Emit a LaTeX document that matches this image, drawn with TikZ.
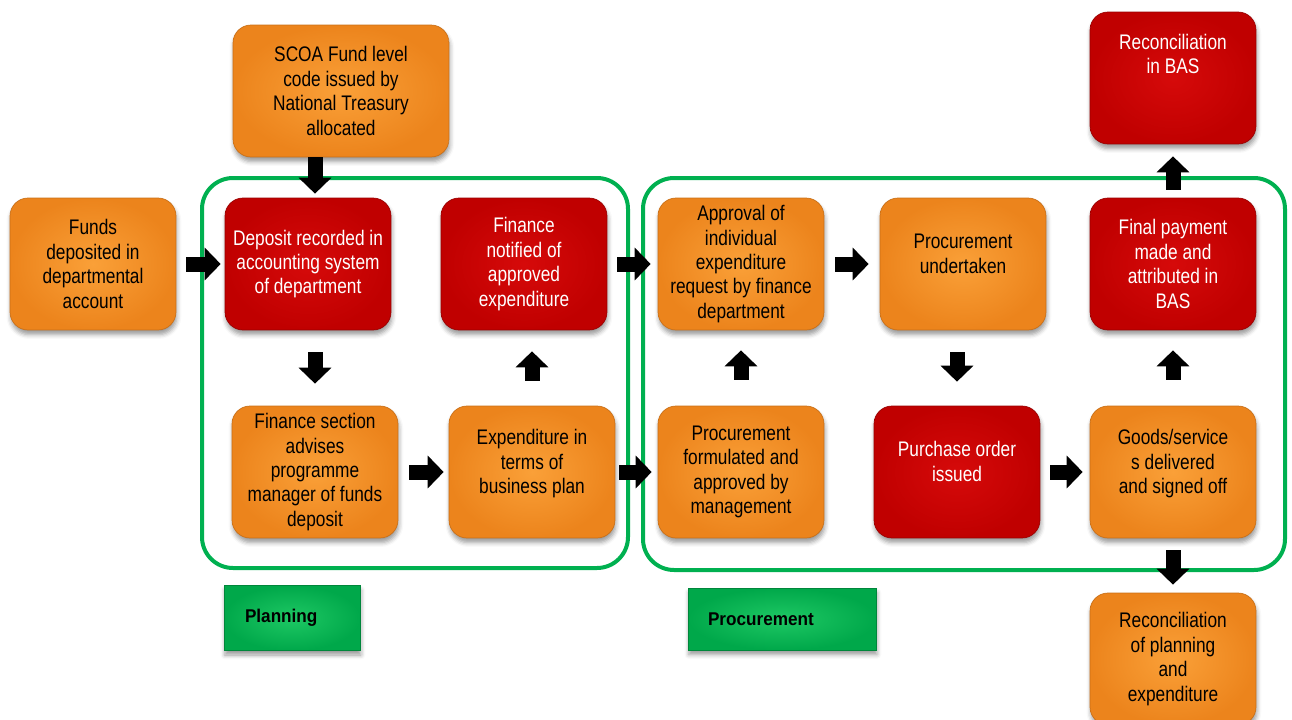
\documentclass[tikz,border=0pt]{standalone}
\usepackage{fontspec}
\setmainfont{Liberation Sans}[FakeStretch=0.82]
\newfontfamily\tagfont{Liberation Sans}[FakeStretch=0.93]
\usetikzlibrary{arrows.meta,shadows.blur,calc}

\definecolor{boxorange}{RGB}{250,160,56}
\definecolor{boxorangedark}{RGB}{236,132,28}
\definecolor{boxred}{RGB}{214,10,10}
\definecolor{boxreddark}{RGB}{192,0,0}
\definecolor{framegreen}{RGB}{0,176,80}
\definecolor{taggreen}{RGB}{30,200,100}
\definecolor{taggreendark}{RGB}{0,168,74}

\tikzset{
  stepbase/.style={rounded corners=0.36cm, minimum width=3.32cm, minimum height=2.64cm,
    inner sep=0pt, align=center, font=\fontsize{12pt}{13.9pt}\selectfont,
    blur shadow={shadow xshift=0.5pt, shadow yshift=-2.6pt, shadow blur radius=2.5pt, shadow opacity=40}},
  orangebox/.style={stepbase, inner color=boxorange, outer color=boxorangedark,
    draw=boxorangedark!85!black, line width=0.4pt, text=black},
  redbox/.style={stepbase, inner color=boxred, outer color=boxreddark,
    draw=boxreddark!80!black, line width=0.4pt, text=white},
  groupframe/.style={draw=framegreen, line width=0.08cm, rounded corners=0.62cm},
  tagbox/.style={inner color=taggreen, outer color=taggreendark, draw=taggreendark!80!black,
    line width=0.4pt, align=left, inner ysep=0pt,
    font=\tagfont\bfseries\fontsize{10.5pt}{12pt}\selectfont,
    blur shadow={shadow xshift=0.5pt, shadow yshift=-2.6pt, shadow blur radius=2.5pt, shadow opacity=40}},
  barrow/.style={draw=black, line width=0.3cm, -{Triangle[width=0.64cm,length=0.32cm]}},
}

\begin{document}
\begin{tikzpicture}[x=0.02cm, y=-0.02cm]
\useasboundingbox (0,0) rectangle (1292,720);

% phase frames
\draw[groupframe] (202,178) rectangle (628,568);
\draw[groupframe] (643,178) rectangle (1285,570);

% process steps
\node[orangebox, minimum width=4.32cm] (scoa) at (341,91)
  {SCOA Fund level\\code issued by\\National Treasury\\allocated};
\node[orangebox] (funds) at (93,264) {Funds\\deposited in\\departmental\\account};
\node[redbox] (deposit) at (308,264) {Deposit recorded in\\accounting system\\of department};
\node[redbox] (finnot) at (524,264) {Finance\\notified of\\approved\\expenditure};
\node[orangebox] (approval) at (741,264)
  {Approval of\\individual\\expenditure\\request by finance\\department};
\node[orangebox] (procund) at (963,264) {Procurement\\undertaken\\[-2pt]\mbox{}};
\node[redbox] (finpay) at (1173,264) {Final payment\\made and\\attributed in\\BAS};
\node[redbox] (recbas) at (1173,78) {Reconciliation\\in BAS\\\mbox{}\\\mbox{}};

\node[orangebox] (fsec) at (315,472)
  {Finance section\\advises\\programme\\manager of funds\\deposit};
\node[orangebox] (expend) at (532,472) {Expenditure in\\terms of\\business plan\\[-2pt]\mbox{}};
\node[orangebox] (procform) at (741,472)
  {Procurement\\formulated and\\approved by\\management};
\node[redbox] (purchase) at (957,472) {Purchase order\\issued\\[-2pt]\mbox{}};
\node[orangebox] (goods) at (1173,472) {Goods/service\\s delivered\\and signed off\\[-2pt]\mbox{}};
\node[orangebox] (recplan) at (1173,659)
  {Reconciliation\\of planning\\and\\expenditure};

% flow arrows
\draw[barrow, shorten >=0.08cm] (scoa.south -| fsec.north) -- (deposit.north -| fsec.north);
\draw[barrow, shorten <=0.2cm, shorten >=0.08cm] (funds.east) -- (deposit.west);
\draw[barrow, shorten <=0.44cm, shorten >=0.44cm] (deposit.south -| fsec.north) -- (fsec.north);
\draw[barrow, shorten <=0.22cm, shorten >=0.1cm] (fsec.east) -- (expend.west);
\draw[barrow, shorten <=0.5cm, shorten >=0.42cm] (expend.north) -- (expend.north |- finnot.south);
\draw[barrow, shorten <=0.2cm, shorten >=0.14cm] (finnot.east) -- (approval.west);
\draw[barrow, shorten <=0.08cm, shorten >=0.12cm] (expend.east) -- (procform.west);
\draw[barrow, shorten <=0.52cm, shorten >=0.4cm] (procform.north) -- (approval.south);
\draw[barrow, shorten <=0.22cm, shorten >=0.22cm] (approval.east) -- (procund.west);
\draw[barrow, shorten <=0.44cm, shorten >=0.48cm] (procund.south -| purchase.north) -- (purchase.north);
\draw[barrow, shorten <=0.2cm, shorten >=0.14cm] (purchase.east) -- (goods.west);
\draw[barrow, shorten <=0.52cm, shorten >=0.4cm] (goods.north) -- (finpay.south);
\draw[barrow, shorten <=0.16cm, shorten >=0.24cm] (finpay.north) -- (recbas.south);
\draw[barrow, shorten <=0.24cm, shorten >=0.16cm] (goods.south) -- (recplan.north);

% phase tags
\node[tagbox, minimum height=1.3cm, text width=1.88cm, inner xsep=0.42cm] (plantag) at (292,618) {Planning};
\node[tagbox, minimum height=1.24cm, text width=2.96cm, inner xsep=0.4cm] (proctag) at (782,619) {Procurement};
\end{tikzpicture}
\end{document}
